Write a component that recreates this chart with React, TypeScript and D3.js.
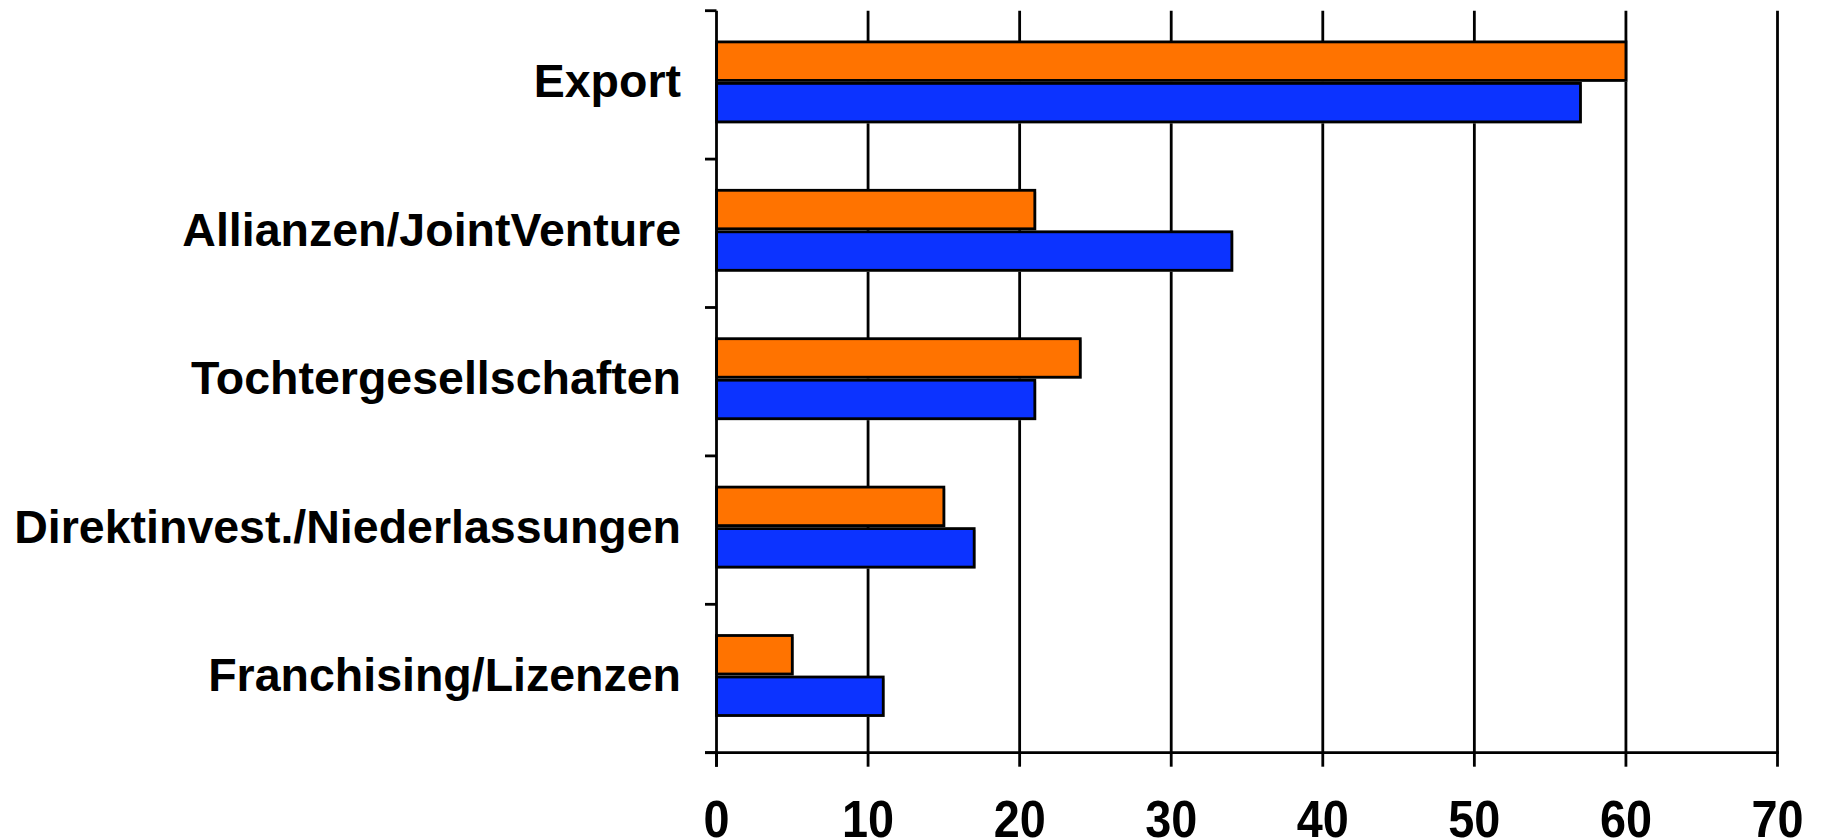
import React from "react";
import * as d3 from "d3";

const categories = [
  "Export",
  "Allianzen/JointVenture",
  "Tochtergesellschaften",
  "Direktinvest./Niederlassungen",
  "Franchising/Lizenzen",
];
const seriesOrange = [60, 21, 24, 15, 5];
const seriesBlue = [57, 34, 21, 17, 11];
const xTicks = [0, 10, 20, 30, 40, 50, 60, 70];

const W = 1821;
const H = 840;
const left = 716.5;
const right = 1777.5;
const top = 10.7;
const bottom = 752.7;
const ORANGE = "#FF7300";
const BLUE = "#0C33FF";
const FONT = "'Liberation Sans', Arial, Helvetica, sans-serif";

export default function App() {
  const x = d3.scaleLinear().domain([0, 70]).range([left, right]);
  const y = d3.scaleBand<string>().domain(categories).range([top, bottom]).padding(0);
  const bw = y.bandwidth();
  const boundaries = [...categories.map((c) => y(c) as number), bottom];

  return (
    <svg
      width={W}
      height={H}
      viewBox={`0 0 ${W} ${H}`}
      style={{ position: "fixed", left: 0, top: 0, background: "#fff" }}
    >
      <rect x={0} y={0} width={W} height={H} fill="#fff" />
      {/* gridlines */}
      {xTicks.filter((t) => t > 0).map((t) => (
        <line key={"g" + t} x1={x(t)} x2={x(t)} y1={top} y2={bottom} stroke="#000" strokeWidth={2.8} />
      ))}
      {/* bars */}
      {categories.map((c, i) => {
        const cy = (y(c) as number) + bw / 2 - 3;
        const bars = [
          { v: seriesOrange[i], y0: cy - 40, fill: ORANGE },
          { v: seriesBlue[i], y0: cy + 1.5, fill: BLUE },
        ];
        return (
          <g key={c}>
            {bars.map((b, j) => (
              <g key={j}>
                <rect x={x(0) + 1.5} y={b.y0 + 1.5} width={x(b.v) - x(0)} height={38.5} fill="#b4b4b4" />
                <rect
                  x={x(0)}
                  y={b.y0}
                  width={x(b.v) - x(0)}
                  height={38.5}
                  fill={b.fill}
                  stroke="#000"
                  strokeWidth={2.8}
                />
              </g>
            ))}
          </g>
        );
      })}
      {/* y axis */}
      <line x1={left} x2={left} y1={top} y2={bottom + 14} stroke="#000" strokeWidth={2.8} />
      {boundaries.map((b, i) => (
        <line key={"yt" + i} x1={705} x2={left} y1={b} y2={b} stroke="#000" strokeWidth={2.8} />
      ))}
      {/* x axis */}
      <line x1={705} x2={right + 1.4} y1={bottom} y2={bottom} stroke="#000" strokeWidth={2.8} />
      {xTicks.map((t) => (
        <line key={"xt" + t} x1={x(t)} x2={x(t)} y1={bottom} y2={bottom + 14} stroke="#000" strokeWidth={2.8} />
      ))}
      {xTicks.map((t) => (
        <text
          key={"xl" + t}
          transform={`translate(${x(t)},${836.5}) scale(0.9,1)`}
          textAnchor="middle"
          fontFamily={FONT}
          fontWeight="bold"
          fontSize={52}
          fill="#000"
        >
          {t}
        </text>
      ))}
      {/* category labels */}
      {categories.map((c) => (
        <text
          key={"cl" + c}
          x={681}
          y={(y(c) as number) + bw / 2 + 12.5}
          textAnchor="end"
          fontFamily={FONT}
          fontWeight="bold"
          fontSize={46.5}
          fill="#000"
        >
          {c}
        </text>
      ))}
    </svg>
  );
}
